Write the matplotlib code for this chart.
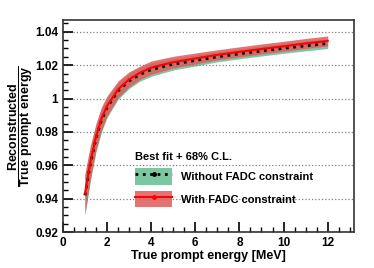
import numpy as np
import matplotlib
matplotlib.use('Agg')
import matplotlib.pyplot as plt
from matplotlib.patches import Patch
from matplotlib.lines import Line2D
from matplotlib.ticker import MultipleLocator

plt.rcParams['font.family'] = ['Liberation Sans', 'DejaVu Sans']
plt.rcParams['font.weight'] = 'bold'
plt.rcParams['mathtext.fontset'] = 'custom'
plt.rcParams['mathtext.bf'] = 'Liberation Sans:bold'
plt.rcParams['mathtext.rm'] = 'Liberation Sans:bold'

# true prompt energy [MeV]
energy = [1.0, 1.25, 1.5, 1.75, 2.0, 2.5, 3.0, 3.5, 4.0, 5.0, 6.0, 7.0, 8.0, 9.0, 10.0, 11.0, 12.0]
# best fit with FADC constraint
with_fadc = [0.943, 0.962, 0.977, 0.988, 0.9955, 1.0055, 1.0115, 1.0155, 1.0185, 1.0218,
             1.0240, 1.0262, 1.0280, 1.0297, 1.0313, 1.0330, 1.0345]
with_err = [0.012, 0.010, 0.008, 0.007, 0.006, 0.005, 0.0045, 0.004, 0.004, 0.0035,
            0.0033, 0.003, 0.003, 0.003, 0.003, 0.003, 0.003]
# best fit without FADC constraint
without_fadc = [0.942, 0.961, 0.976, 0.987, 0.9945, 1.0045, 1.0105, 1.0145, 1.0173, 1.0206,
                1.0228, 1.0250, 1.0268, 1.0285, 1.0301, 1.0316, 1.0330]
without_err = [0.012, 0.010, 0.008, 0.007, 0.006, 0.005, 0.0045, 0.004, 0.004, 0.0035,
               0.0033, 0.003, 0.003, 0.003, 0.003, 0.003, 0.003]

green = '#7cc6a0'
red_band = '#e05c5c'

e = np.array(energy)
w, we = np.array(with_fadc), np.array(with_err)
wo, woe = np.array(without_fadc), np.array(without_err)

fig = plt.figure(figsize=(3.74, 2.68), dpi=100)
ax = fig.add_axes([0.168, 0.134, 0.779, 0.791])

ax.fill_between(e, wo - woe, wo + woe, color=green, lw=0)
ax.plot(e, wo, color='black', ls=':', lw=2)
ax.fill_between(e, w - we, w + we, color=red_band, alpha=0.85, lw=0)
ax.plot(e, w, color='red', lw=1.5)

ax.set_xlim(0, 13.2)
ax.set_ylim(0.92, 1.047)
ax.xaxis.set_major_locator(MultipleLocator(2))
ax.xaxis.set_minor_locator(MultipleLocator(0.5))
ax.yaxis.set_minor_locator(MultipleLocator(0.005))
ax.set_yticks([0.92, 0.94, 0.96, 0.98, 1.0, 1.02, 1.04])
ax.set_yticklabels(['0.92', '0.94', '0.96', '0.98', '1', '1.02', '1.04'])
ax.tick_params(which='both', direction='in', top=False, right=False, labelsize=8.5)
ax.tick_params(which='major', length=7, width=1.2)
ax.tick_params(which='minor', length=3.5, width=1)
ax.grid(axis='y', which='major', ls=':', color='gray', lw=0.9)
for s in ax.spines.values():
    s.set_linewidth(1.2)
    s.set_color('#333333')

ax.set_xlabel('True prompt energy [MeV]', fontsize=9, fontweight='bold', labelpad=1)
ax.set_ylabel(r'$\dfrac{\mathbf{Reconstructed}}{\mathbf{True\ prompt\ energy}}$', fontsize=9, labelpad=0)

h1 = (Patch(facecolor=green, lw=0), Line2D([], [], color='black', ls=':', lw=2, marker='.', ms=5))
h2 = (Patch(facecolor=red_band, alpha=0.85, lw=0), Line2D([], [], color='red', lw=1.5, marker='.', ms=5))
leg = ax.legend([h1, h2], ['Without FADC constraint', 'With FADC constraint'],
                title='Best fit + 68% C.L.', loc='lower left', bbox_to_anchor=(0.215, 0.07),
                frameon=False, fontsize=8, title_fontproperties={'weight': 'bold', 'size': 8},
                handlelength=3.3, handleheight=1.9, handletextpad=0.8, labelspacing=0.55,
                alignment='left')

fig.savefig('out.png', dpi=100)
